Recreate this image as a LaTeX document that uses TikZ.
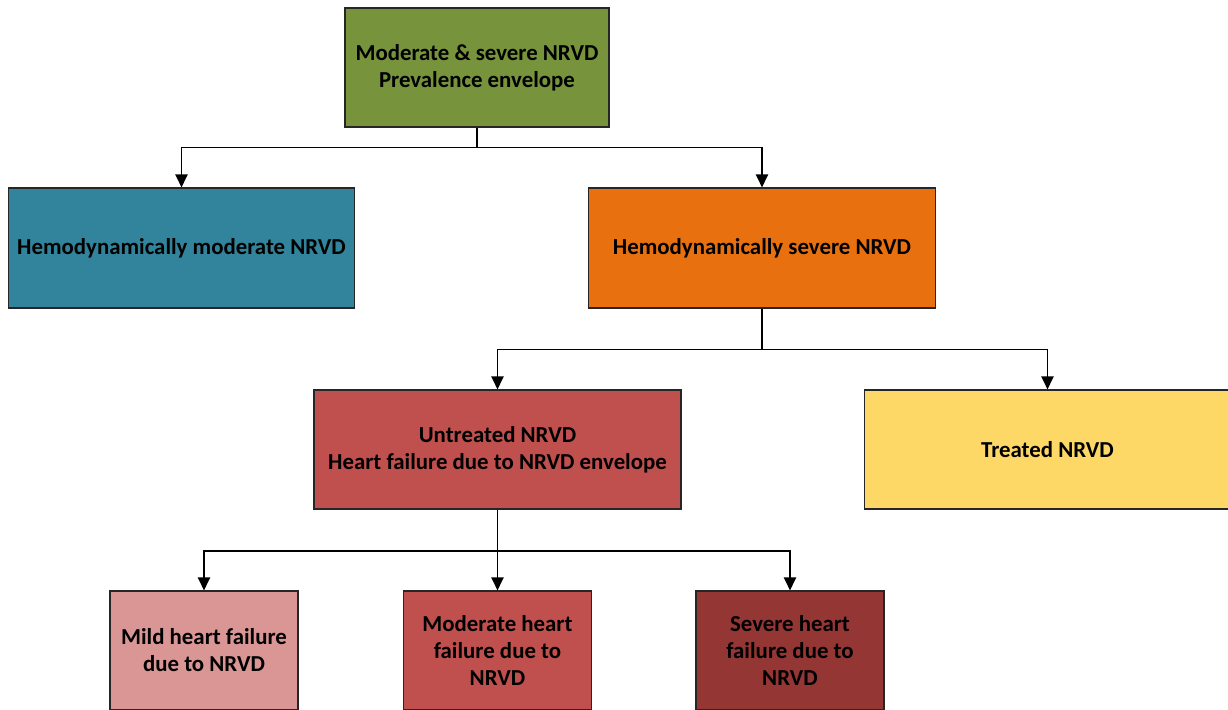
\documentclass[tikz,border=0pt]{standalone}
\usepackage{fontspec}
\setmainfont{Carlito}
\usepackage{tikz}
\usepackage{xcolor}
\usetikzlibrary{arrows.meta,positioning,calc}
\definecolor{NrvdGreen}{HTML}{77933C}
\definecolor{NrvdTeal}{HTML}{31849B}
\definecolor{NrvdOrange}{HTML}{E8700F}
\definecolor{NrvdRed}{HTML}{C0504D}
\definecolor{NrvdYellow}{HTML}{FDD867}
\definecolor{NrvdPink}{HTML}{D99694}
\definecolor{NrvdDark}{HTML}{943634}
\tikzset{
    % Base box style
    basebox/.style={
        draw=black!85,
        line width=0.6pt,
        align=center,
        inner sep=2pt,
        font=\fontsize{13}{15.4}\selectfont\bfseries
    },
    % Wide box (upper levels)
    widebox/.style={
        basebox,
        minimum width=6.93cm,
        minimum height=2.4cm
    },
    % Small box (heart failure level)
    hfbox/.style={
        basebox,
        minimum width=3.76cm,
        minimum height=2.38cm
    },
    % Arrow style
    myarrow/.style={
        -{Triangle[length=0.26cm,width=0.24cm]},
        line width=1.1pt,
        draw=black
    }
}
\begin{document}
\begin{tikzpicture}
        \useasboundingbox (0,0) rectangle (24.56,-14.2);

        % Envelope
        \node[basebox, fill=NrvdGreen, minimum width=5.28cm, minimum height=2.38cm] (prev) at (9.54,-1.35) {Moderate \& severe NRVD\\Prevalence envelope};

        % Hemodynamic level
        \node[widebox, fill=NrvdTeal] (hmod) at (3.63,-4.96) {Hemodynamically moderate NRVD};
        \node[widebox, fill=NrvdOrange] (hsev) at (15.24,-4.96) {Hemodynamically severe NRVD};

        % Treatment level
        \node[widebox, fill=NrvdRed, minimum width=7.34cm, minimum height=2.38cm] (untr) at (9.95,-8.99) {Untreated NRVD\\Heart failure due to NRVD envelope};
        \node[widebox, fill=NrvdYellow, minimum width=7.32cm, minimum height=2.38cm] (treat) at (20.95,-8.99) {Treated NRVD};

        % Heart failure level
        \node[hfbox, fill=NrvdPink] (mild) at (4.08,-13.01) {Mild heart failure\\due to NRVD};
        \node[hfbox, fill=NrvdRed] (modhf) at (9.95,-13.01) {Moderate heart\\failure due to\\NRVD};
        \node[hfbox, fill=NrvdDark] (sevhf) at (15.80,-13.01) {Severe heart\\failure due to\\NRVD};

        % Arrows
        \draw[myarrow] (prev.south) -- ++(0,-0.4) -| (hmod.north);
        \draw[myarrow] (prev.south) -- ++(0,-0.4) -| (hsev.north);

        \draw[myarrow] (hsev.south) -- ++(0,-0.82) -| (untr.north);
        \draw[myarrow] (hsev.south) -- ++(0,-0.82) -| (treat.north);

        \draw[myarrow] (untr.south) -- ++(0,-0.82) -| (mild.north);
        \draw[myarrow] (untr.south) -- (modhf.north);
        \draw[myarrow] (untr.south) -- ++(0,-0.82) -| (sevhf.north);
    \end{tikzpicture}
\end{document}
